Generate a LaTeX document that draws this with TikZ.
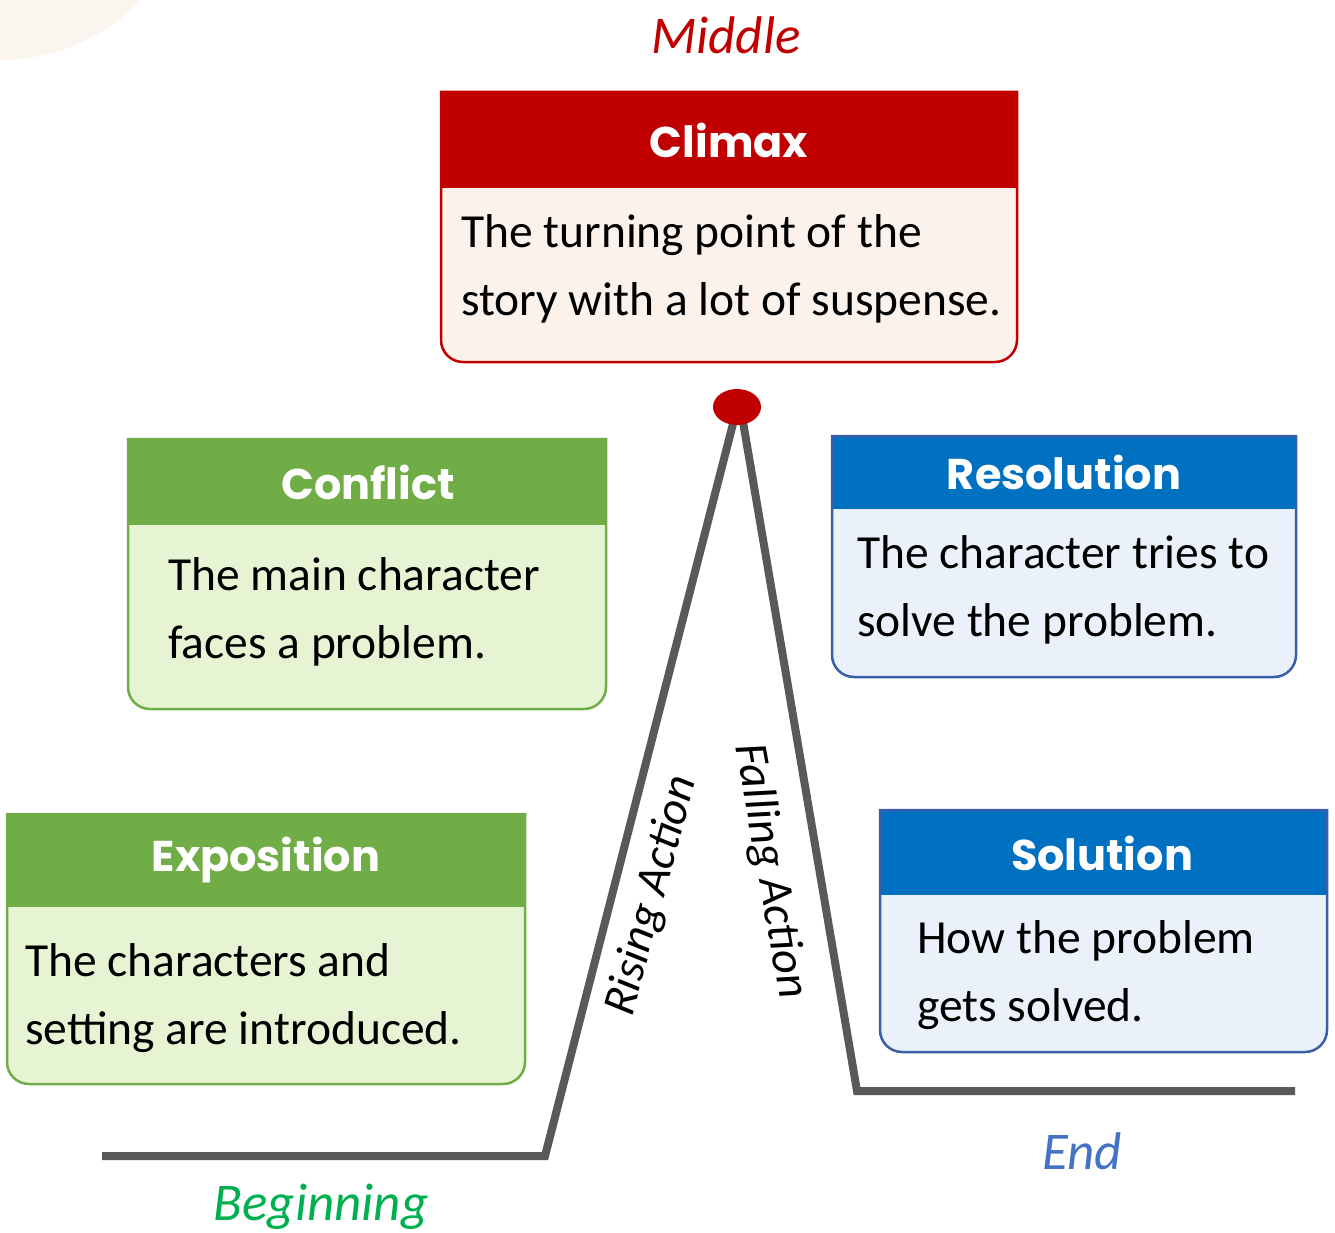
\documentclass[tikz,border=0pt]{standalone}
\usepackage{fontspec}
\setmainfont{Carlito}
\newfontfamily\headfont{Poppins}
\usetikzlibrary{shapes.geometric}
\definecolor{climred}{HTML}{C00000}
\definecolor{climbody}{HTML}{FBF2EC}
\definecolor{grhead}{HTML}{70AD47}
\definecolor{grbody}{HTML}{E7F4D4}
\definecolor{bluhead}{HTML}{0070C0}
\definecolor{blubody}{HTML}{EAF1FA}
\definecolor{bluborder}{HTML}{3A5FA8}
\definecolor{plotgray}{HTML}{595959}
\definecolor{bgtint}{HTML}{FBF5F0}
\definecolor{begingreen}{HTML}{00B050}
\definecolor{endblue}{HTML}{4472C4}
\begin{document}
\begin{tikzpicture}[x=1pt,y=-1pt,
  headtext/.style={text=white,font=\headfont\bfseries\fontsize{43}{46}\selectfont,inner sep=0pt},
  bodytext/.style={font=\fontsize{47.5}{68.5}\selectfont,align=left,anchor=north west,inner sep=0pt},
  plotline/.style={draw=plotgray,line width=8pt,line join=miter},
  stagelabel/.style={font=\itshape\fontsize{53}{56}\selectfont,inner sep=0pt},
  actionlabel/.style={font=\itshape\fontsize{47}{50}\selectfont,inner sep=0pt},
  boxline/.style={line width=2.5pt}]
\useasboundingbox (0,0) rectangle (1335,1233);
\fill[bgtint] (0,-135) circle (195pt);

% plot line
\coordinate (begL) at (102,1156);
\coordinate (begR) at (545,1156);
\coordinate (apexL) at (735,416);
\coordinate (apexR) at (742,416);
\coordinate (endL) at (857,1091);
\coordinate (endR) at (1295,1091);
\draw[plotline] (begL) -- (begR) -- (apexL);
\draw[plotline] (apexR) -- (endL) -- (endR);
\node[ellipse,fill=climred,minimum width=48pt,minimum height=36pt,inner sep=0pt] (peak) at (737,407) {};

% Climax
\fill[climbody] (441,188) -- (1017,188) [rounded corners=22pt] -- (1017,362) -- (441,362) [sharp corners] -- cycle;
\fill[climred] (441,92) rectangle (1017,188);
\draw[boxline,draw=climred] (441,92) -- (1017,92) [rounded corners=22pt] -- (1017,362) -- (441,362) [sharp corners] -- cycle;
\node[headtext] (climaxhead) at (729,140) {Climax};
\node[bodytext] (climaxbody) at (461,214) {The turning point of the\\story with a lot of suspense.};

% Conflict
\fill[grbody] (128,525) -- (606,525) [rounded corners=22pt] -- (606,709) -- (128,709) [sharp corners] -- cycle;
\fill[grhead] (128,439) rectangle (606,525);
\draw[boxline,draw=grhead] (128,439) -- (606,439) [rounded corners=22pt] -- (606,709) -- (128,709) [sharp corners] -- cycle;
\node[headtext] (conflicthead) at (368,482) {Conflict};
\node[bodytext] (conflictbody) at (168,557) {The main character\\faces a problem.};

% Resolution
\fill[blubody] (832,509) -- (1296,509) [rounded corners=22pt] -- (1296,677) -- (832,677) [sharp corners] -- cycle;
\fill[bluhead] (832,436) rectangle (1296,509);
\draw[boxline,draw=bluborder] (832,436) -- (1296,436) [rounded corners=22pt] -- (1296,677) -- (832,677) [sharp corners] -- cycle;
\node[headtext] (resolutionhead) at (1064,472) {Resolution};
\node[bodytext] (resolutionbody) at (857,535) {The character tries to\\solve the problem.};

% Exposition
\fill[grbody] (7,907) -- (525,907) [rounded corners=22pt] -- (525,1084) -- (7,1084) [sharp corners] -- cycle;
\fill[grhead] (7,814) rectangle (525,907);
\draw[boxline,draw=grhead] (7,814) -- (525,814) [rounded corners=22pt] -- (525,1084) -- (7,1084) [sharp corners] -- cycle;
\node[headtext] (expositionhead) at (266,860) {Exposition};
\node[bodytext] (expositionbody) at (25,943) {The characters and\\setting are introduced.};

% Solution
\fill[blubody] (880,895) -- (1327,895) [rounded corners=22pt] -- (1327,1052) -- (880,1052) [sharp corners] -- cycle;
\fill[bluhead] (880,810) rectangle (1327,895);
\draw[boxline,draw=bluborder] (880,810) -- (1327,810) [rounded corners=22pt] -- (1327,1052) -- (880,1052) [sharp corners] -- cycle;
\node[headtext] (solutionhead) at (1102,853) {Solution};
\node[bodytext] (solutionbody) at (917,920) {How the problem\\gets solved.};

% labels
\node[stagelabel,text=climred] (middle) at (726,35) {Middle};
\node[stagelabel,text=begingreen] (beginning) at (321,1207) {Beginning};
\node[stagelabel,text=endblue] (endlabel) at (1082,1151) {End};
\node[actionlabel,rotate=75] (rising) at (652,896) {Rising Action};
\node[actionlabel,rotate=-80] (falling) at (770,871) {Falling Action};
\end{tikzpicture}
\end{document}
